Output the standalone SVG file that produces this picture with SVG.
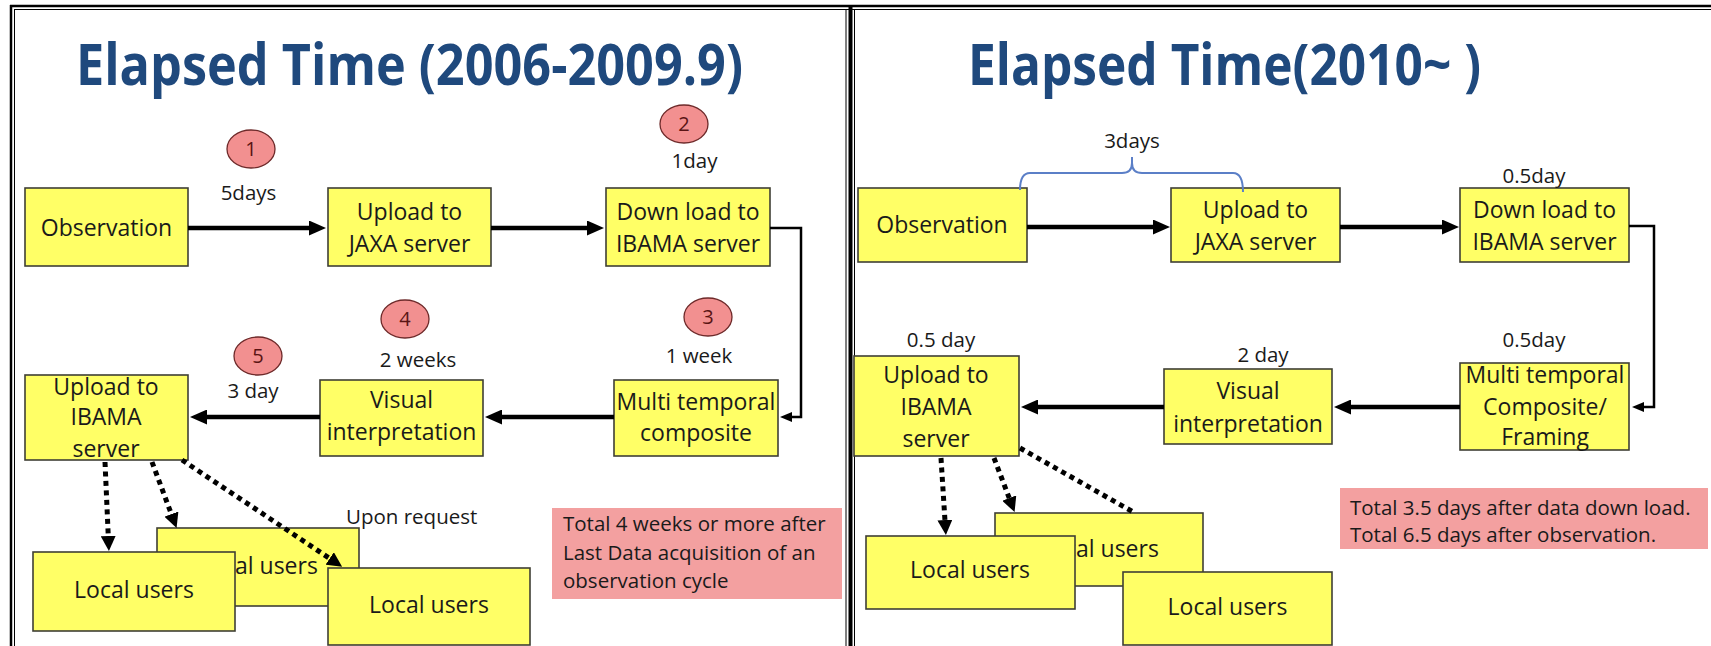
<svg xmlns="http://www.w3.org/2000/svg" width="1711" height="646" viewBox="0 0 1711 646">
<style>
.title{font-family:"Open Sans","Liberation Sans",sans-serif;font-weight:bold;font-size:58px;fill:#1f497d}
.bx{fill:#ffff66;stroke:#3f3f35;stroke-width:1.6}
.tx{font-family:"Open Sans","Liberation Sans",sans-serif;font-size:23px;fill:#1a1a1a;text-anchor:middle}
.lb{font-family:"Open Sans","Liberation Sans",sans-serif;font-size:20.5px;fill:#1a1a1a;text-anchor:middle}
.lbs{font-family:"Open Sans","Liberation Sans",sans-serif;font-size:20.5px;fill:#1a1a1a}
.num{font-family:"Open Sans","Liberation Sans",sans-serif;font-size:20px;fill:#5a1414;text-anchor:middle}
.circ{fill:#f29090;stroke:#6e2a2a;stroke-width:1.3}
.pink{fill:#f3a0a0}
.main{fill:none;stroke:#000;stroke-width:4.5;marker-end:url(#ah)}
.thin{fill:none;stroke:#000;stroke-width:2.5;marker-end:url(#ahs)}
.dot{fill:none;stroke:#000;stroke-width:5;stroke-dasharray:5 4.5}
.dota{fill:none;stroke:#000;stroke-width:5;stroke-dasharray:5 4.5;marker-end:url(#ahd)}
.frame{stroke:#000;fill:none}
</style>
<defs>
<marker id="ah" viewBox="0 0 17 15" refX="1" refY="7.5" markerWidth="17" markerHeight="15" markerUnits="userSpaceOnUse" orient="auto"><path d="M0,0 L17,7.5 L0,15 z" fill="#000"/></marker>
<marker id="ahs" viewBox="0 0 12 10" refX="1" refY="5" markerWidth="12" markerHeight="10" markerUnits="userSpaceOnUse" orient="auto"><path d="M0,0 L12,5 L0,10 z" fill="#000"/></marker>
<marker id="ahd" viewBox="0 0 15 15" refX="1" refY="7.5" markerWidth="15" markerHeight="15" markerUnits="userSpaceOnUse" orient="auto"><path d="M0,0 L15,7.5 L0,15 z" fill="#000"/></marker>
</defs>
<rect x="0" y="0" width="1711" height="646" fill="#ffffff"/>
<g id="frame">
<line class="frame" x1="10" y1="6" x2="1711" y2="6" stroke-width="2.5"/>
<line class="frame" x1="14" y1="9.5" x2="1711" y2="9.5" stroke-width="1"/>
<line class="frame" x1="11" y1="5" x2="11" y2="646" stroke-width="2.5"/>
<line class="frame" x1="14.5" y1="9.5" x2="14.5" y2="646" stroke-width="1"/>
<line class="frame" x1="846" y1="9.5" x2="846" y2="646" stroke-width="1"/>
<line class="frame" x1="850.5" y1="6" x2="850.5" y2="646" stroke-width="4"/>
<line class="frame" x1="854.5" y1="9.5" x2="854.5" y2="646" stroke-width="1"/>
</g>

<g id="title-left"><text class="title" x="76" y="85" textLength="667" lengthAdjust="spacingAndGlyphs">Elapsed Time (2006-2009.9)</text></g>
<g id="title-right"><text class="title" x="968" y="85" textLength="513" lengthAdjust="spacingAndGlyphs">Elapsed Time(2010~ )</text></g>

<!-- LEFT PANEL -->
<g id="L-observation"><rect class="bx" x="25" y="188" width="163" height="78"/><text class="tx" x="106.5" y="236">Observation</text></g>
<g id="L-upload-jaxa"><rect class="bx" x="328" y="188" width="163" height="78"/><text class="tx" x="409.5" y="220">Upload to</text><text class="tx" x="409.5" y="252">JAXA server</text></g>
<g id="L-download"><rect class="bx" x="606" y="188" width="164" height="78"/><text class="tx" x="688" y="220">Down load to</text><text class="tx" x="688" y="252">IBAMA server</text></g>
<g id="L-multi"><rect class="bx" x="614" y="380" width="164" height="76"/><text class="tx" x="696" y="410">Multi temporal</text><text class="tx" x="696" y="441">composite</text></g>
<g id="L-visual"><rect class="bx" x="320" y="380" width="163" height="76"/><text class="tx" x="401.5" y="408">Visual</text><text class="tx" x="401.5" y="440">interpretation</text></g>
<g id="L-upload-ibama"><rect class="bx" x="25" y="375" width="163" height="85"/><text class="tx" x="106" y="395">Upload to</text><text class="tx" x="106" y="425">IBAMA</text><text class="tx" x="106" y="457">server</text></g>
<g id="L-users-back"><rect class="bx" x="157" y="528" width="202" height="78"/><text class="tx" x="258" y="574">Local users</text></g>

<g id="L-labels">
<ellipse class="circ" cx="251" cy="149" rx="24" ry="19"/><text class="num" x="251" y="156">1</text>
<ellipse class="circ" cx="684" cy="124" rx="24" ry="19"/><text class="num" x="684" y="131">2</text>
<ellipse class="circ" cx="708" cy="317" rx="24" ry="19"/><text class="num" x="708" y="324">3</text>
<ellipse class="circ" cx="405" cy="319" rx="24" ry="19"/><text class="num" x="405" y="326">4</text>
<ellipse class="circ" cx="258" cy="356" rx="24" ry="19"/><text class="num" x="258" y="363">5</text>
<text class="lb" x="248.5" y="200">5days</text>
<text class="lb" x="694.5" y="168">1day</text>
<text class="lb" x="699" y="363">1 week</text>
<text class="lb" x="418" y="367">2 weeks</text>
<text class="lb" x="253" y="398">3 day</text>
<text class="lbs" x="346" y="524">Upon request</text>
</g>

<!-- RIGHT PANEL back nodes -->
<g id="R-observation"><rect class="bx" x="858" y="188" width="169" height="74"/><text class="tx" x="942" y="233">Observation</text></g>
<g id="R-upload-jaxa"><rect class="bx" x="1171" y="188" width="169" height="74"/><text class="tx" x="1255.5" y="218">Upload to</text><text class="tx" x="1255.5" y="250">JAXA server</text></g>
<g id="R-download"><rect class="bx" x="1460" y="188" width="169" height="74"/><text class="tx" x="1544.5" y="218">Down load to</text><text class="tx" x="1544.5" y="250">IBAMA server</text></g>
<g id="R-multi"><rect class="bx" x="1460" y="363" width="169" height="87"/><text class="tx" x="1545" y="383">Multi temporal</text><text class="tx" x="1545" y="415">Composite/</text><text class="tx" x="1545" y="445">Framing</text></g>
<g id="R-visual"><rect class="bx" x="1164" y="369" width="168" height="75"/><text class="tx" x="1248" y="399">Visual</text><text class="tx" x="1248" y="432">interpretation</text></g>
<g id="R-upload-ibama"><rect class="bx" x="854" y="356" width="165" height="100"/><text class="tx" x="936" y="383">Upload to</text><text class="tx" x="936" y="415">IBAMA</text><text class="tx" x="936" y="447">server</text></g>
<g id="R-users-back"><rect class="bx" x="995" y="513" width="208" height="73"/><text class="tx" x="1099" y="557">Local users</text></g>

<g id="R-labels">
<text class="lb" x="1132" y="148">3days</text>
<path d="M1020,190 Q1020,173 1030,173 L1122,173 Q1132,173 1132,163 L1132,157 M1132,163 Q1132,173 1142,173 L1233,173 Q1243,173 1243,192" fill="none" stroke="#5b7fc7" stroke-width="2"/>
<text class="lb" x="1534" y="183">0.5day</text>
<text class="lb" x="941" y="347">0.5 day</text>
<text class="lb" x="1263" y="362">2 day</text>
<text class="lb" x="1534" y="347">0.5day</text>
</g>

<g id="connectors">
<path class="main" d="M188,228 L310,228"/>
<path class="main" d="M491,228 L588,228"/>
<path class="thin" d="M770,228 L801,228 L801,417 L791,417"/>
<path class="main" d="M614,417 L501,417"/>
<path class="main" d="M320,417 L206,417"/>
<path class="dota" d="M105,462 L108.3,537"/>
<path class="dota" d="M152,462 L171.7,515"/>
<path class="dota" d="M182,460 L330.5,559"/>
<path class="main" d="M1027,227 L1154,227"/>
<path class="main" d="M1340,227 L1443,227"/>
<path class="thin" d="M1629,226 L1654,226 L1654,407 L1643,407"/>
<path class="main" d="M1460,407 L1350,407"/>
<path class="main" d="M1164,407 L1037,407"/>
<path class="dota" d="M941,458 L945,521"/>
<path class="dota" d="M994,458 L1009.6,499"/>
<path class="dot" d="M1020,448 L1135,513"/>
</g>

<g id="L-users-front-left"><rect class="bx" x="33" y="552" width="202" height="79"/><text class="tx" x="134" y="598">Local users</text></g>
<g id="L-users-front-right"><rect class="bx" x="328" y="568" width="202" height="77"/><text class="tx" x="429" y="613">Local users</text></g>
<g id="L-total"><rect class="pink" x="552" y="508" width="290" height="91"/>
<text class="lbs" x="563" y="531">Total 4 weeks or more after</text>
<text class="lbs" x="563" y="560">Last Data acquisition of an</text>
<text class="lbs" x="563" y="588">observation cycle</text></g>

<g id="R-users-front-left"><rect class="bx" x="866" y="536" width="209" height="73"/><text class="tx" x="970" y="578">Local users</text></g>
<g id="R-users-front-right"><rect class="bx" x="1123" y="572" width="209" height="73"/><text class="tx" x="1227.5" y="615">Local users</text></g>
<g id="R-total"><rect class="pink" x="1340" y="488" width="368" height="61"/>
<text class="lbs" x="1350" y="515">Total 3.5 days after data down load.</text>
<text class="lbs" x="1350" y="542">Total 6.5 days after observation.</text></g>
</svg>
